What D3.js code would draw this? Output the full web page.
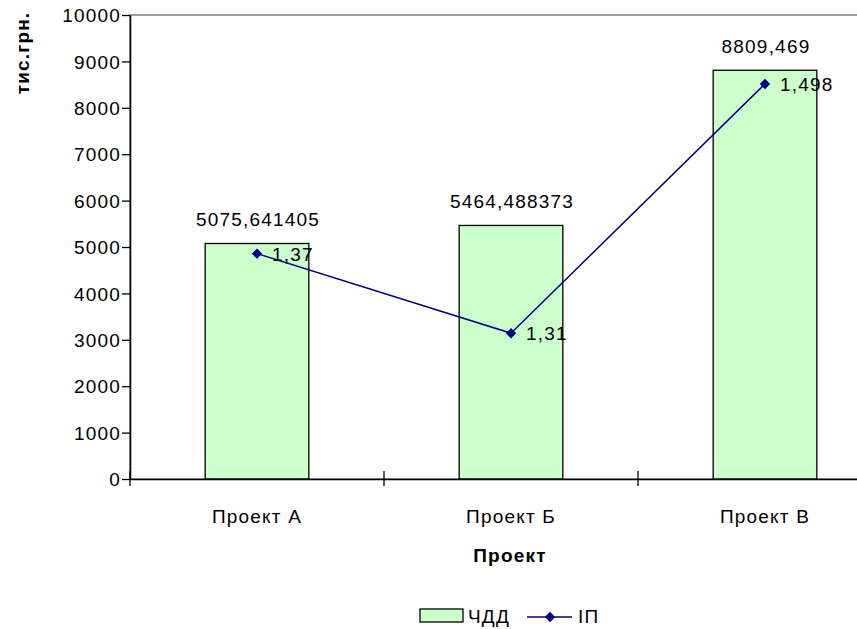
<!DOCTYPE html>
<html><head><meta charset="utf-8">
<script src="https://cdn.jsdelivr.net/npm/d3@7"></script>
<style>body{margin:0;background:#fff}svg{display:block;font-family:"Liberation Sans",Arial,sans-serif}
svg text{letter-spacing:1.2px}</style>
</head><body><svg id="c" width="857" height="629"></svg>
<script>
const categories = ["Проект А", "Проект Б", "Проект В"];
const npv = [5075.641405, 5464.488373, 8809.469];
const npvLabels = ["5075,641405", "5464,488373", "8809,469"];
const pi = [1.37, 1.31, 1.498];
const piLabels = ["1,37", "1,31", "1,498"];
const yTicks = [0,1000,2000,3000,4000,5000,6000,7000,8000,9000,10000];
const legendNames = ["ЧДД", "ІП"];

(function(){
const svg = d3.select("#c");
const FS = 19;
const pLeft = 130, pTop = 15, pBottom = 479, bandW = 254;
const pRight = pLeft + bandW * categories.length;

const x = d3.scaleBand().domain(categories).range([pLeft, pRight]).paddingInner(0).paddingOuter(0);
const y = d3.scaleLinear().domain([0, 10000]).range([pBottom, pTop]);
const y2 = d3.scaleLinear().domain([1.2, 1.55]).range([pBottom, pTop]);

// plot border (gray top/right)
svg.append("rect").attr("x", pLeft).attr("y", pTop).attr("width", pRight - pLeft).attr("height", pBottom - pTop)
  .attr("fill", "none").attr("stroke", "#808080").attr("stroke-width", 1.5);

// bars
const bw = x.bandwidth() / 2.45;
svg.selectAll("rect.bar").data(npv).enter().append("rect")
  .attr("x", (d, i) => x(categories[i]) + (x.bandwidth() - bw) / 2)
  .attr("y", d => y(d)).attr("width", bw).attr("height", d => y(0) - y(d))
  .attr("fill", "#ccffcc").attr("stroke", "#000").attr("stroke-width", 1.3);

// bar labels
svg.selectAll("text.bl").data(npv).enter().append("text")
  .attr("x", (d, i) => x(categories[i]) + x.bandwidth() / 2 + 1)
  .attr("y", d => y(d) - 17).attr("text-anchor", "middle")
  .attr("font-size", FS).attr("fill", "#000").text((d, i) => npvLabels[i]);

// y axis
const yAxis = svg.append("g").attr("transform", `translate(${pLeft},0)`)
  .call(d3.axisLeft(y).tickValues(yTicks).tickSizeInner(8).tickSizeOuter(0).tickFormat(d3.format("d")));
yAxis.select(".domain").attr("stroke", "#000").attr("stroke-width", 1.5);
yAxis.selectAll(".tick line").attr("stroke", "#000").attr("stroke-width", 1.3);
yAxis.selectAll(".tick text").attr("font-size", FS).attr("fill", "#000").attr("x", -9).attr("dy", "0.35em")
  .attr("font-family", "Liberation Sans, Arial, sans-serif");

// x axis
const xAxis = svg.append("g").attr("transform", `translate(0,${pBottom})`)
  .call(d3.axisBottom(x).tickSize(0).tickSizeOuter(0));
xAxis.select(".domain").attr("stroke", "#000").attr("stroke-width", 1.5);
xAxis.selectAll(".tick text").attr("font-size", FS).attr("fill", "#000").attr("dy", 0).attr("y", 44)
  .attr("font-family", "Liberation Sans, Arial, sans-serif");
// category boundary ticks
const bounds = categories.map(c => x(c)).concat([pRight]);
svg.selectAll("line.xt").data(bounds).enter().append("line")
  .attr("x1", d => d).attr("x2", d => d).attr("y1", pBottom - 8).attr("y2", pBottom + 7)
  .attr("stroke", "#000").attr("stroke-width", 1.3);

// PI line
const line = d3.line().x((d, i) => x(categories[i]) + x.bandwidth() / 2).y(d => y2(d));
svg.append("path").datum(pi).attr("d", line).attr("fill", "none").attr("stroke", "#000080").attr("stroke-width", 1.5);
const sym = d3.symbol().type(d3.symbolDiamond2).size(70);
svg.selectAll("path.mk").data(pi).enter().append("path")
  .attr("transform", (d, i) => `translate(${x(categories[i]) + x.bandwidth() / 2},${y2(d)})`)
  .attr("d", sym).attr("fill", "#000080");
svg.selectAll("text.pl").data(pi).enter().append("text")
  .attr("x", (d, i) => x(categories[i]) + x.bandwidth() / 2 + 15)
  .attr("y", d => y2(d) + 7).attr("font-size", FS).attr("fill", "#000").text((d, i) => piLabels[i]);

// axis titles
svg.append("text").attr("transform", "translate(29,53) rotate(-90)").attr("text-anchor", "middle")
  .attr("font-size", FS).attr("font-weight", "bold").text("тис.грн.");
svg.append("text").attr("x", 510).attr("y", 562).attr("text-anchor", "middle")
  .attr("font-size", FS).attr("font-weight", "bold").text("Проект");

// legend
const lg = svg.append("g");
lg.append("rect").attr("x", 420).attr("y", 609).attr("width", 43).attr("height", 13)
  .attr("fill", "#ccffcc").attr("stroke", "#000").attr("stroke-width", 1.3);
lg.append("text").attr("x", 468).attr("y", 623).attr("font-size", FS).text(legendNames[0]);
lg.append("line").attr("x1", 527).attr("x2", 572).attr("y1", 617).attr("y2", 617)
  .attr("stroke", "#000080").attr("stroke-width", 1.5);
lg.append("path").attr("transform", "translate(550,617)").attr("d", sym).attr("fill", "#000080");
lg.append("text").attr("x", 578).attr("y", 623).attr("font-size", FS).text(legendNames[1]);
})();
</script></body></html>
